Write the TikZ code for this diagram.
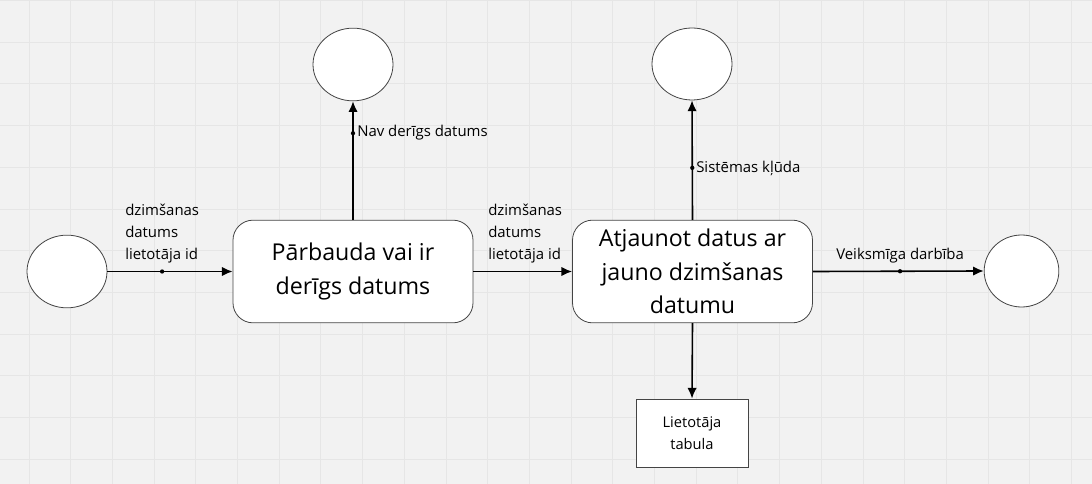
\documentclass[tikz,border=0pt]{standalone}
\usepackage{fontspec}
\setmainfont{Open Sans}
\usetikzlibrary{arrows.meta,shapes.geometric}
\definecolor{bg}{HTML}{F2F2F2}
\definecolor{gridc}{HTML}{E6E6E6}
\definecolor{edgec}{HTML}{444444}
\tikzset{
  endpt/.style={ellipse, draw=edgec, fill=white, line width=0.6pt, inner sep=0pt},
  procbox/.style={draw=edgec, fill=white, line width=0.6pt, rounded corners=15pt, minimum width=180pt, minimum height=77pt, align=center, font=\fontsize{17.4}{25}\selectfont},
  storebox/.style={draw=edgec, fill=white, line width=0.6pt, minimum width=84pt, minimum height=51pt, align=center, font=\fontsize{11}{16.5}\selectfont},
  flow/.style={-{Latex[length=8pt,width=7pt]}, line width=1.2pt},
  lbl/.style={font=\fontsize{11.2}{16.2}\selectfont, inner sep=0pt, align=left},
  dotc/.style={circle, fill=black, inner sep=0pt, minimum size=3.2pt}
}
\begin{document}
\begin{tikzpicture}[x=0.75pt,y=-0.75pt]
\useasboundingbox (0,0) rectangle (1092,484);
\fill[bg] (0,0) rectangle (1092,484);
\foreach \i in {0,...,25} {\draw[gridc, line width=0.7pt] ({29+41.7*\i},0) -- ({29+41.7*\i},484);}
\foreach \j in {0,...,11} {\draw[gridc, line width=0.7pt] (0,{0.5+41.7*\j}) -- (1092,{0.5+41.7*\j});}

% nodes
\node[endpt, minimum width=60pt, minimum height=54.5pt] (start) at (67,271.5) {};
\node[procbox] (p1) at (353,271.5) {Pārbauda vai ir\\derīgs datums};
\node[procbox] (p2) at (692.5,271.5) {Atjaunot datus ar\\jauno dzimšanas\\datumu};
\node[endpt, minimum width=60pt, minimum height=54.5pt] (err1) at (353,64.5) {};
\node[endpt, minimum width=60pt, minimum height=54pt] (err2) at (692,64) {};
\node[endpt, minimum width=56pt, minimum height=54pt] (ok) at (1021.5,271) {};
\node[storebox] (db) at (692,433) {Lietotāja\\tabula};

% connectors
\draw[flow] (start.east) -- (p1.west) coordinate[pos=0.437] (c1);
\draw[flow] (p1.east) -- (p2.west);
\draw[flow] (p2.east) -- (ok.west) coordinate[pos=0.51] (c3);
\draw[flow] (p1.north) -- (err1.south) coordinate[pos=0.73] (c4);
\draw[flow] (p2.north) -- (err2.south) coordinate[pos=0.435] (c5);
\draw[flow] (p2.south) -- (db.north);
\node[dotc] (d1) at (c1) {};
\node[dotc] (d3) at (c3) {};
\node[dotc] (d4) at (c4) {};
\node[dotc] (d5) at (c5) {};

% labels
\node[lbl, anchor=south west] (l1) at (125,263) {dzimšanas\\datums\\lietotāja id};
\node[lbl, anchor=south west] (l2) at (488,263) {dzimšanas\\datums\\lietotāja id};
\node[lbl, anchor=south west] (l3) at (836,263) {Veiksmīga darbība};
\node[lbl, anchor=west] (l4) at (357,132.5) {Nav derīgs datums};
\node[lbl, anchor=west] (l5) at (696,168) {Sistēmas kļūda};
\end{tikzpicture}
\end{document}
